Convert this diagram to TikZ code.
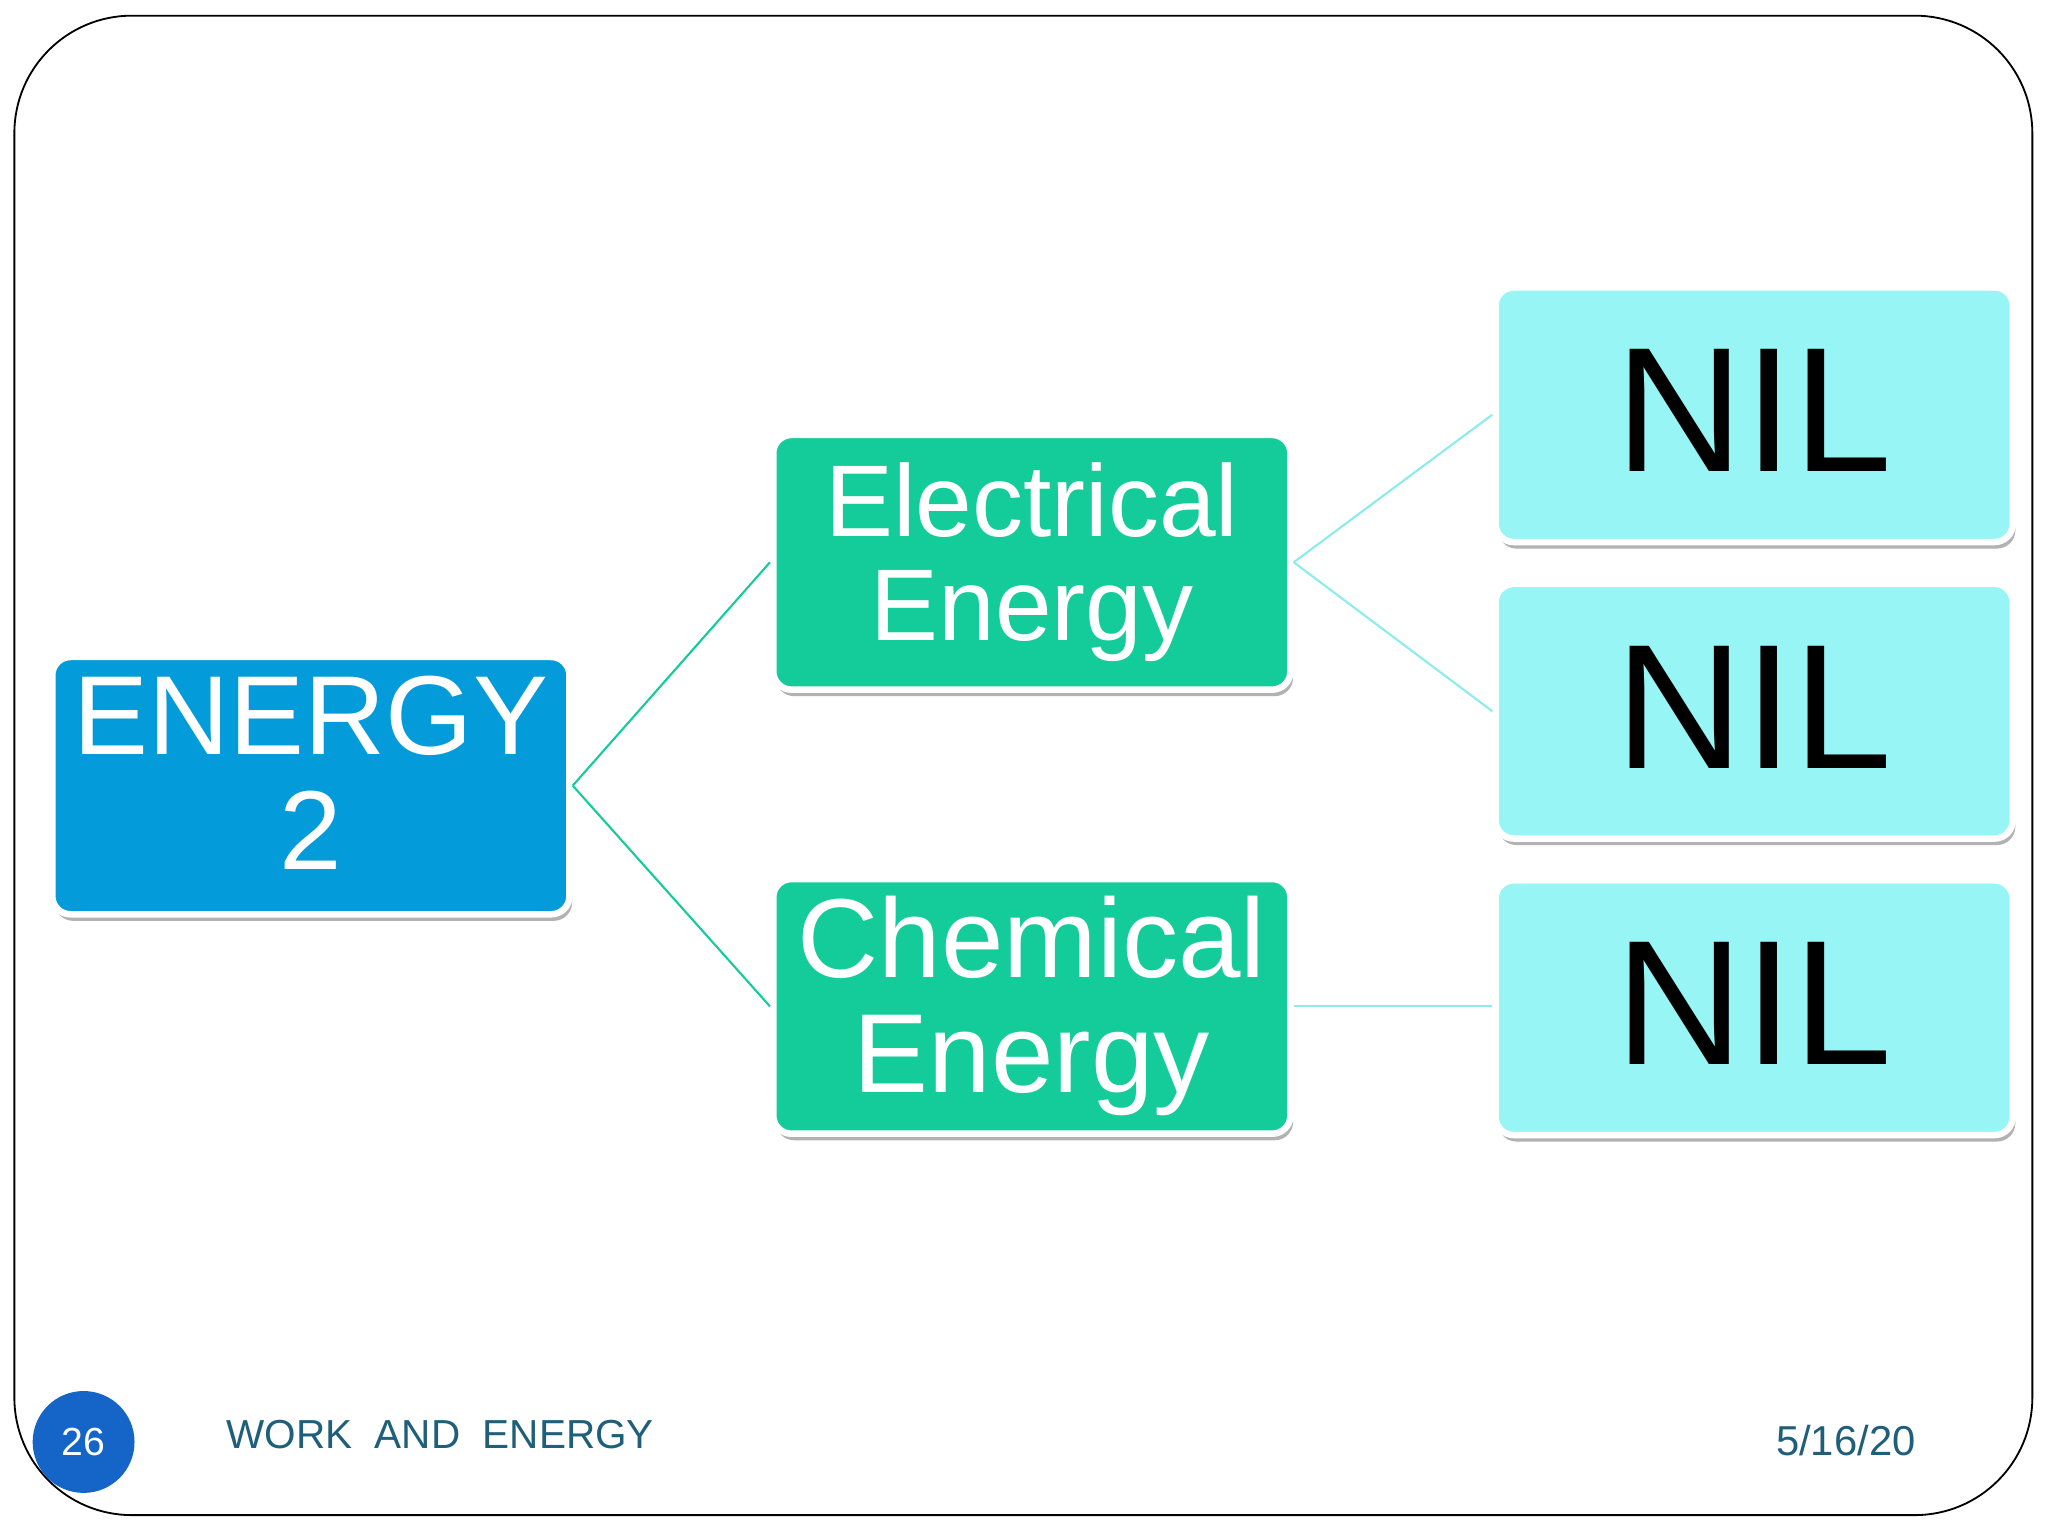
\documentclass[tikz,border=0pt]{standalone}
\usepackage{fontspec}
\setmainfont{Liberation Sans}
\begin{document}
\begin{tikzpicture}[x=0.5pt,y=-0.5pt,
  box/.style={draw=white,line width=2.5pt,rounded corners=7pt,inner sep=0pt,align=center},
  shad/.style={fill=black!30,rounded corners=7pt},
  lnk/.style={line width=0.8pt}]
\useasboundingbox (0,0) rectangle (1568,1176);
\fill[white] (0,0) rectangle (1568,1176);
\draw[line width=0.7pt,rounded corners=45] (11,12) rectangle (1556,1160);
% shadows
\foreach \a/\b/\c/\d in {40/503/436/700, 592/333/988/528, 592/673/988/868, 1145/220/1541/415, 1145/447/1541/642, 1145/674/1541/869}
  \fill[shad] (\a+2,\b+5) rectangle (\c+2,\d+5);
\node[box,fill={rgb,255:red,3;green,155;blue,217},minimum width=198pt,minimum height=98.5pt] (en) at (238,601.5) {};
\node[align=center,inner sep=0pt,text=white,font=\fontsize{43}{44}\selectfont] (ent) at (238,592) {ENERGY\\2};
\node[box,fill={rgb,255:red,20;green,204;blue,154},minimum width=198pt,minimum height=97.5pt,text=white,font=\fontsize{39}{40}\selectfont] (el) at (790,430.5) {Electrical\\Energy};
\node[box,fill={rgb,255:red,20;green,204;blue,154},minimum width=198pt,minimum height=97.5pt,text=white,font=\fontsize{43}{44}\selectfont] (ch) at (790,770.5) {Chemical\\Energy};
\node[box,fill={rgb,255:red,152;green,245;blue,245},minimum width=198pt,minimum height=97.5pt,font=\fontsize{68}{68}\selectfont] (n1) at (1343,317.5) {\raisebox{3pt}{NIL}};
\node[box,fill={rgb,255:red,152;green,245;blue,245},minimum width=198pt,minimum height=97.5pt,font=\fontsize{68}{68}\selectfont] (n2) at (1343,544.5) {\raisebox{3pt}{NIL}};
\node[box,fill={rgb,255:red,152;green,245;blue,245},minimum width=198pt,minimum height=97.5pt,font=\fontsize{68}{68}\selectfont] (n3) at (1343,771.5) {\raisebox{3pt}{NIL}};
\draw[lnk,color={rgb,255:red,20;green,204;blue,154}] (en.east) -- (el.west);
\draw[lnk,color={rgb,255:red,20;green,204;blue,154}] (en.east) -- (ch.west);
\draw[lnk,color={rgb,255:red,140;green,235;blue,235}] (el.east) -- (n1.west);
\draw[lnk,color={rgb,255:red,140;green,235;blue,235}] (el.east) -- (n2.west);
\draw[lnk,color={rgb,255:red,140;green,235;blue,235}] (ch.east) -- (ch.east -| n3.west);
\node[circle,fill={rgb,255:red,21;green,101;blue,200},minimum size=39pt,inner sep=0pt,text=white,font=\fontsize{15}{15}\selectfont] (pg) at (64,1104) {26};
\node[anchor=west,inner sep=0pt,text={rgb,255:red,31;green,95;blue,122},font=\fontsize{15.5}{15.5}\selectfont] (ft) at (173,1098) {WORK\ \ AND\ \ ENERGY};
\node[anchor=east,inner sep=0pt,text={rgb,255:red,31;green,95;blue,122},font=\fontsize{16}{16}\selectfont] (dt) at (1467,1103) {5/16/20};
\end{tikzpicture}
\end{document}
